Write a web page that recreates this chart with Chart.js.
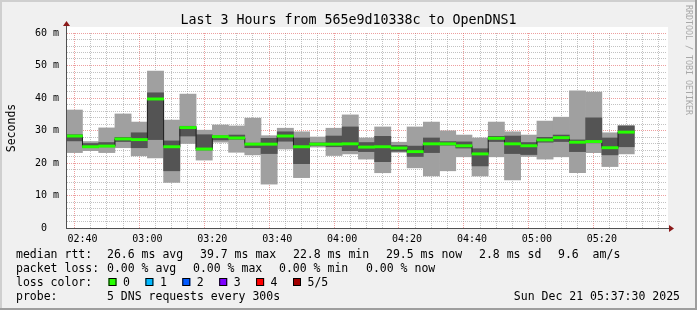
<!DOCTYPE html>
<html>
<head>
<meta charset="utf-8">
<title>Last 3 Hours from 565e9d10338c to OpenDNS1</title>
<script src="https://cdn.jsdelivr.net/npm/chart.js@4.4.1/dist/chart.umd.min.js"></script>
<style>
  html, body { margin: 0; padding: 0; background: #f0f0f0; }
  #wrap { width: 697px; height: 310px; }
</style>
</head>
<body>
<div id="wrap"><canvas id="smokeChart" width="697" height="310"></canvas></div>
<script>
// 5 minute steps, time = end of the step (first one is cut by the left edge)
const times = ['02:40', '02:45', '02:50', '02:55', '03:00', '03:05', '03:10', '03:15', '03:20', '03:25',
               '03:30', '03:35', '03:40', '03:45', '03:50', '03:55', '04:00', '04:05', '04:10', '04:15',
               '04:20', '04:25', '04:30', '04:35', '04:40', '04:45', '04:50', '04:55', '05:00', '05:05',
               '05:10', '05:15', '05:20', '05:25', '05:30'];

// the 5 sorted pings of each step, in ms
const lowest  = [23.2, 23.8, 23.2, 24.7, 22.2, 21.6, 14.0, 26.0, 20.9, 26.4, 23.3, 22.5, 13.5, 24.3, 15.5, 24.9, 22.3, 22.8,
                 21.2, 17.0, 23.3, 18.5, 16.0, 17.6, 21.9, 16.0, 21.9, 14.8, 22.0, 21.2, 21.9, 17.0, 23.2, 18.9, 22.8];
const low     = [26.8, 24.8, 25.0, 26.6, 24.7, 27.2, 17.6, 28.3, 24.0, 27.1, 27.3, 24.7, 22.9, 26.7, 19.8, 25.4, 25.0, 23.8,
                 23.5, 20.4, 23.6, 22.0, 23.2, 25.5, 24.6, 19.1, 26.6, 22.9, 22.6, 26.4, 26.6, 23.5, 26.2, 22.5, 25.0];
const median  = [28.3, 25.0, 25.2, 27.4, 27.2, 39.7, 25.0, 30.9, 24.3, 28.1, 27.7, 25.8, 25.8, 28.3, 25.0, 25.8, 25.8, 25.9,
                 24.9, 25.0, 24.6, 23.5, 25.9, 25.9, 25.3, 22.8, 27.6, 25.9, 25.3, 27.1, 27.8, 26.4, 26.6, 24.7, 29.5];
const high    = [28.7, 26.0, 26.3, 27.9, 29.3, 41.6, 26.8, 31.3, 28.7, 28.4, 28.6, 26.1, 27.6, 29.6, 27.7, 26.2, 28.3, 31.1,
                 26.3, 28.2, 25.4, 25.2, 27.7, 26.6, 26.5, 24.4, 28.2, 28.3, 26.3, 27.9, 28.6, 27.1, 33.9, 27.7, 31.4];
const highest = [36.3, 26.6, 30.8, 35.1, 32.6, 48.3, 33.2, 41.2, 30.1, 31.7, 31.4, 33.8, 28.4, 30.7, 29.6, 28.0, 30.7, 34.8,
                 27.7, 31.1, 26.4, 31.1, 32.6, 29.9, 28.6, 27.7, 32.6, 29.6, 28.6, 32.9, 34.1, 42.2, 41.8, 29.3, 31.5];

const xLabels = ['02:40', '03:00', '03:20', '03:40', '04:00', '04:20', '04:40', '05:00', '05:20'];
const yLabels = ['0  ', '10 m', '20 m', '30 m', '40 m', '50 m', '60 m'];

const endTime = '05:37:30';
const STEP = 5;

function toMin(t) {
    const p = t.split(':').map(Number);
    return p[0] * 60 + p[1] + (p[2] || 0) / 60;
}

const xMax = toMin(endTime);
const xMin = xMax - 180;
const centers = times.map(t => toMin(t) - STEP / 2);

const MONO = '"DejaVu Sans Mono", monospace';
const GRID = 'rgba(143, 143, 143, 0.55)';
const MGRID = 'rgba(222, 80, 80, 0.55)';

Chart.defaults.font.family = MONO;
Chart.defaults.color = '#000';

function rangeData(a, b) {
    return centers.map((x, i) => ({ x: x, y: [a[i], b[i]] }));
}

// text round the graph: legend, title, axis title and arrows
const legendRows = [
    { y: 258, items: [[16, 'median rtt:'], [107, '26.6 ms avg'], [200, '39.7 ms max'], [293, '22.8 ms min'],
                      [386, '29.5 ms now'], [479, '2.8 ms sd'], [558, '9.6  am/s']] },
    { y: 272, items: [[16, 'packet loss:'], [107, '0.00 % avg'], [193, '0.00 % max'], [279, '0.00 % min'], [366, '0.00 % now']] },
    { y: 286, items: [[16, 'loss color:']] },
    { y: 300, items: [[16, 'probe:'], [107, '5 DNS requests every 300s']] }
];
const lossColors = [['#26ff00', '0'], ['#00b8ff', '1'], ['#0059ff', '2'], ['#7e00ff', '3'], ['#ff0000', '4'], ['#a10000', '5/5']];

const decor = {
    id: 'decor',
    beforeDraw(chart) {
        const { ctx, width, height, chartArea: a } = chart;
        ctx.save();
        ctx.fillStyle = '#f0f0f0';
        ctx.fillRect(0, 0, width, height);
        ctx.fillStyle = '#cfcfcf';
        ctx.fillRect(0, 0, width, 2);
        ctx.fillRect(0, 0, 2, height);
        ctx.fillStyle = '#9e9e9e';
        ctx.fillRect(0, height - 2, width, 2);
        ctx.fillRect(width - 2, 0, 2, height);
        ctx.fillStyle = '#ffffff';
        ctx.fillRect(a.left, a.top - 6, a.right - a.left + 1, a.bottom - a.top + 6);
        ctx.restore();
    },
    afterDraw(chart) {
        const { ctx, chartArea: a } = chart;
        ctx.save();

        // axis extensions + arrows
        ctx.strokeStyle = '#505050';
        ctx.lineWidth = 1;
        ctx.beginPath();
        ctx.moveTo(a.left + 0.5, a.top - 8);
        ctx.lineTo(a.left + 0.5, a.top);
        ctx.moveTo(a.right, a.bottom + 0.5);
        ctx.lineTo(a.right + 3, a.bottom + 0.5);
        ctx.stroke();
        ctx.fillStyle = '#8b1a1a';
        ctx.beginPath();
        ctx.moveTo(a.left - 3, a.top - 7);
        ctx.lineTo(a.left + 4, a.top - 7);
        ctx.lineTo(a.left + 0.5, a.top - 12);
        ctx.closePath();
        ctx.fill();
        ctx.beginPath();
        ctx.moveTo(a.right + 2, a.bottom - 3);
        ctx.lineTo(a.right + 2, a.bottom + 4);
        ctx.lineTo(a.right + 7, a.bottom + 0.5);
        ctx.closePath();
        ctx.fill();

        ctx.fillStyle = '#000';
        ctx.font = '13.3px ' + MONO;
        ctx.textAlign = 'center';
        ctx.textBaseline = 'alphabetic';
        ctx.fillText('Last 3 Hours from 565e9d10338c to OpenDNS1', 348.5, 24);

        ctx.font = '11.5px ' + MONO;
        ctx.save();
        ctx.translate(14.5, 128);
        ctx.rotate(-Math.PI / 2);
        ctx.fillText('Seconds', 0, 0);
        ctx.restore();

        ctx.save();
        ctx.fillStyle = '#a8a8a8';
        ctx.font = '8.3px ' + MONO;
        ctx.translate(685.5, 60);
        ctx.rotate(Math.PI / 2);
        ctx.fillText('RRDTOOL / TOBI OETIKER', 0, 0);
        ctx.restore();

        ctx.textAlign = 'left';
        legendRows.forEach(row => {
            row.items.forEach(it => ctx.fillText(it[1], it[0], row.y));
        });
        lossColors.forEach((c, i) => {
            const x = 108.5 + i * 36.9;
            ctx.fillStyle = c[0];
            ctx.fillRect(x, 278, 8, 8);
            ctx.strokeStyle = '#000';
            ctx.strokeRect(x + 0.5, 278.5, 7, 7);
            ctx.fillStyle = '#000';
            ctx.fillText(c[1], x + 14.5, 286);
        });
        ctx.textAlign = 'right';
        ctx.fillText('Sun Dec 21 05:37:30 2025', 680, 300);
        ctx.restore();
    }
};

const barStyle = {
    type: 'bar',
    grouped: false,
    barPercentage: 1,
    categoryPercentage: 1,
    borderWidth: 0,
    clip: 0
};

const ctx = document.getElementById('smokeChart').getContext('2d');
const smokeChart = new Chart(ctx, {
    type: 'bar',
    data: {
        datasets: [
            Object.assign({}, barStyle, {
                label: 'smoke outer',
                data: rangeData(lowest, highest),
                backgroundColor: '#a0a0a0',
                order: 4
            }),
            Object.assign({}, barStyle, {
                label: 'smoke inner',
                data: rangeData(low, high),
                backgroundColor: '#545454',
                order: 3
            }),
            {
                type: 'line',
                label: 'median',
                data: centers.map((x, i) => ({ x: x, y: median[i] })),
                stepped: 'middle',
                borderColor: '#202020',
                borderWidth: 1,
                pointRadius: 0,
                clip: 0,
                order: 2
            },
            Object.assign({}, barStyle, {
                label: 'median rtt (loss 0)',
                data: centers.map((x, i) => ({ x: x, y: [median[i] - 0.35, median[i] + 0.35] })),
                backgroundColor: '#26ff00',
                order: 1
            })
        ]
    },
    options: {
        responsive: false,
        animation: false,
        events: [],
        layout: { padding: { left: 0, right: 30, top: 33, bottom: 0 } },
        plugins: {
            legend: { display: false },
            title: { display: false },
            tooltip: { enabled: false }
        },
        scales: {
            x: {
                type: 'linear',
                min: xMin,
                max: xMax,
                afterBuildTicks: axis => {
                    const ticks = [];
                    for (let m = Math.ceil(xMin / STEP) * STEP; m <= xMax; m += STEP) ticks.push({ value: m });
                    axis.ticks = ticks;
                },
                afterFit: scale => { scale.height = 82; },
                grid: {
                    color: c => (c.tick && c.tick.value % 20 === 0) ? MGRID : GRID,
                    lineWidth: 1,
                    drawTicks: false
                },
                border: { display: true, color: '#505050', width: 1, dash: [1, 1], z: 1 },
                ticks: {
                    autoSkip: false,
                    maxRotation: 0,
                    padding: 5,
                    font: { size: 10, family: MONO },
                    callback: v => {
                        const h = Math.floor(v / 60), m = Math.round(v % 60);
                        const s = String(h).padStart(2, '0') + ':' + String(m).padStart(2, '0');
                        return xLabels.includes(s) ? s : '';
                    }
                }
            },
            y: {
                min: 0,
                max: 60,
                afterFit: scale => { scale.width = 66; },
                grid: {
                    color: c => (c.tick && c.tick.value % 10 === 0) ? MGRID : GRID,
                    lineWidth: 1,
                    drawTicks: false
                },
                border: { display: true, color: '#505050', width: 1, dash: [1, 1], z: 1 },
                ticks: {
                    stepSize: 2,
                    autoSkip: false,
                    padding: 7,
                    font: { size: 10, family: MONO },
                    callback: v => v % 10 === 0 ? yLabels[v / 10] : ''
                }
            }
        }
    },
    plugins: [decor]
});
</script>
</body>
</html>
